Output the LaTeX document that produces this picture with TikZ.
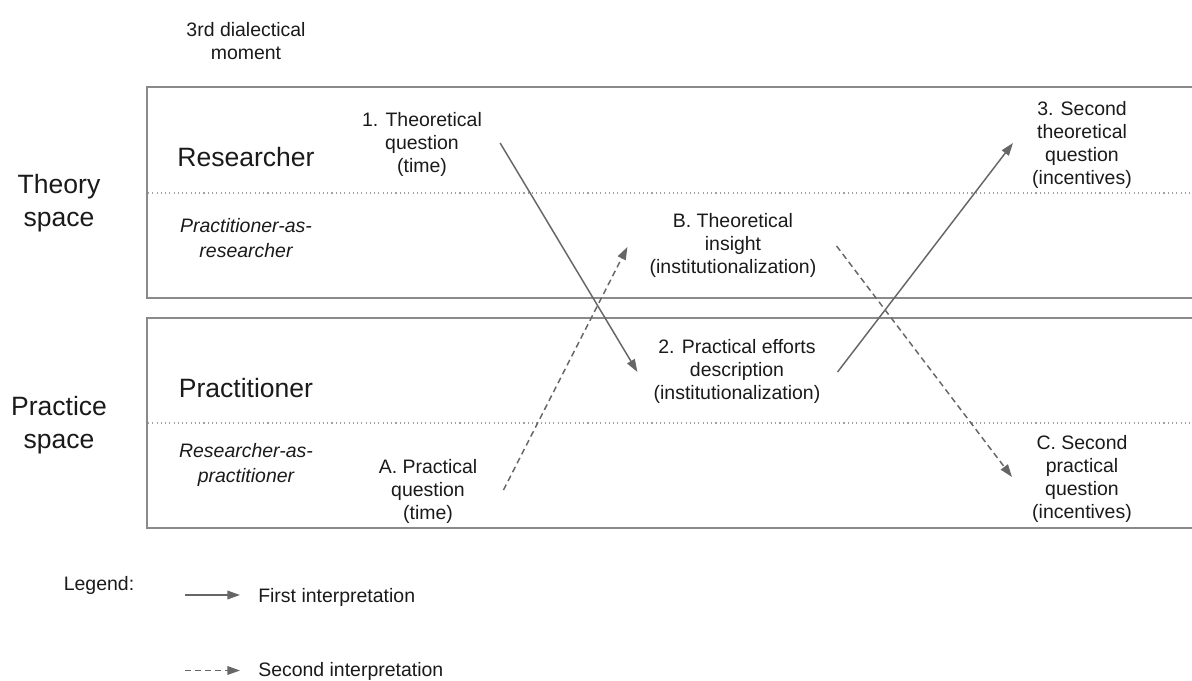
\documentclass[tikz,border=0pt]{standalone}
\usepackage{fontspec}
\setmainfont{Liberation Sans}
\usetikzlibrary{arrows.meta,calc}
\definecolor{boxgray}{HTML}{8A8A8A}
\definecolor{arrowgray}{HTML}{666666}
\definecolor{dotgray}{HTML}{A0A0A0}
\definecolor{txt}{HTML}{1A1A1A}
\tikzset{
  lbl/.style={inner sep=0pt, align=center, text=txt, font=\fontsize{14.6pt}{17.25pt}\selectfont},
  biglbl/.style={inner sep=0pt, align=center, text=txt, font=\fontsize{19.9pt}{24.75pt}\selectfont},
  itlbl/.style={lbl, font=\fontsize{14.6pt}{18.5pt}\selectfont\itshape},
  boxline/.style={draw=boxgray, line width=1.5pt},
  sepline/.style={draw=dotgray, line width=0.8pt, dash pattern=on 0.8pt off 2.4pt},
  firstarrow/.style={draw=arrowgray, line width=1.1pt, -{Triangle[length=9.5pt,width=6.5pt]}},
  secondarrow/.style={draw=arrowgray, line width=1.1pt, dash pattern=on 4.5pt off 3pt, -{Triangle[length=9.5pt,width=6.5pt]}}
}
\begin{document}
\begin{tikzpicture}[x=0.75pt,y=-0.75pt]
\useasboundingbox (0,0) rectangle (1192,681);
% boxes
\draw[boxline] (147,87) rectangle (1210,298);
\draw[boxline] (147,318) rectangle (1210,528);
\draw[sepline] (148,193) -- (1192,193);
\draw[sepline] (148,423) -- (1192,423);
% headings
\node[lbl] (moment) at (246,41) {3rd dialectical\\moment};
\node[biglbl] (theory) at (59,203) {Theory\\space};
\node[biglbl] (practice) at (59,425) {Practice\\space};
\node[biglbl, anchor=base] (researcher) at (246,167) {Researcher};
\node[biglbl, anchor=base] (practitioner) at (246,397) {Practitioner};
\node[itlbl] (parres) at (246,238) {Practitioner-as-\\researcher};
\node[itlbl] (respra) at (246,465) {Researcher-as-\\practitioner};
% content nodes
\node[lbl] (q1) at (422,144.5) {1. Theoretical\\question\\(time)};
\node[lbl] (qB) at (733,245.5) {B. Theoretical\\insight\\(institutionalization)};
\node[lbl] (q2) at (737,371.5) {2. Practical efforts\\description\\(institutionalization)};
\node[lbl] (q3) at (1082,145) {3. Second\\theoretical\\question\\(incentives)};
\node[lbl] (qC) at (1082,478.5) {C. Second\\practical\\question\\(incentives)};
\node[lbl] (qA) at (428,491.5) {A. Practical\\question\\(time)};
% arrows
\draw[firstarrow] ($(q1.east)+(18,-1.5)$) -- ($(q2.west)+(-16,0.5)$);
\draw[firstarrow] ($(q2.east)+(17,0.5)$) -- ($(q3.west)+(-19,-2)$);
\draw[secondarrow] ($(qA.east)+(26,-1.5)$) -- ($(qB.west)+(-22,1.5)$);
\draw[secondarrow] ($(qB.east)+(20,0.5)$) -- ($(qC.west)+(-20,-1.5)$);
% legend
\node[lbl] (legend) at (99,585) {Legend:};
\node[lbl, anchor=west] (first) at (258,597) {First interpretation};
\node[lbl, anchor=west] (second) at (258,671.5) {Second interpretation};
\coordinate (l1) at (185,595);
\coordinate (l2) at (185,670.5);
\draw[firstarrow] (l1) -- ($(first.west)+(-18,-2)$);
\draw[secondarrow] (l2) -- ($(second.west)+(-18,-1)$);
\end{tikzpicture}
\end{document}
